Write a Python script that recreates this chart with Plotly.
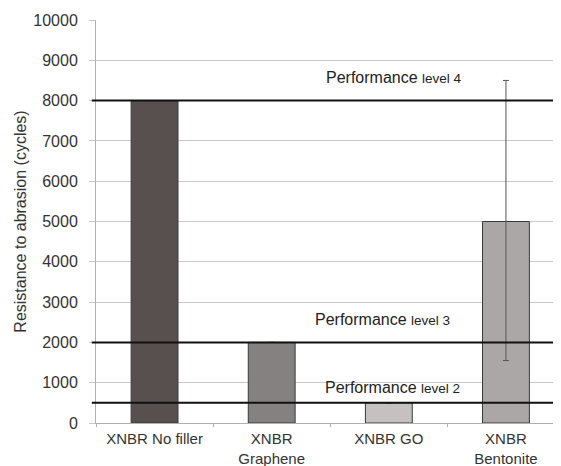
import plotly.graph_objects as go

categories = ["XNBR No filler", "XNBR<br>Graphene", "XNBR GO", "XNBR<br>Bentonite"]
cycles = [8000, 2000, 500, 5000]
err_plus = [0, 0, 0, 3500]
err_minus = [0, 0, 0, 3450]
err_visible = [False, False, False, True]
bar_colors = ["#57504f", "#858180", "#c4c1c0", "#aba7a6"]

levels = [8000, 2000, 500]
level_names = ["4", "3", "2"]
label_x = [0.490, 0.467, 0.488]
label_y = [8570, 2560, 880]

fig = go.Figure()
fig.add_trace(go.Bar(
    x=categories, y=cycles, width=0.40,
    marker=dict(color=bar_colors, line=dict(color="#3a3a3a", width=1)),
    error_y=dict(type="data", symmetric=False,
                 array=[p if v else None for p, v in zip(err_plus, err_visible)],
                 arrayminus=[m if v else None for m, v in zip(err_minus, err_visible)],
                 color="#555555", thickness=1, width=3),
    showlegend=False,
))

for lv, name, lx, ly in zip(levels, level_names, label_x, label_y):
    fig.add_shape(type="line", xref="paper", yref="y", x0=-0.009, x1=1, y0=lv, y1=lv,
                  line=dict(color="#111111", width=2))
    fig.add_annotation(xref="paper", yref="y", x=lx, y=ly, xanchor="left", yanchor="middle",
                       showarrow=False,
                       text="Performance <span style='font-size:13.5px'>level " + name + "</span>",
                       font=dict(size=16, color="#222222", family="Liberation Sans, Arial"))

# page body has an 8px default margin; figure sized/offset to compensate
fig.update_layout(
    width=553, height=458,
    margin=dict(l=88, r=0, t=12, b=43, autoexpand=False),
    plot_bgcolor="white", paper_bgcolor="white",
    font=dict(family="Liberation Sans, Arial", size=16, color="#333333"),
    bargap=0.6,
)
fig.update_xaxes(
    range=[-0.5, 3.47], showgrid=False, showline=True, linecolor="#b0b0b0", linewidth=1,
    ticks="outside", tickson="boundaries", ticklen=3, tickcolor="#b0b0b0",
    ticklabelstandoff=2,
    tickfont=dict(size=15, color="#333333"), automargin=False,
)
fig.update_yaxes(
    range=[0, 10000], dtick=1000, tickformat="d", showgrid=True, gridcolor="#c8c8c8", gridwidth=1,
    showline=True, linecolor="#b0b0b0", linewidth=1, zeroline=False,
    ticks="outside", ticklen=6, tickcolor="#c8c8c8", ticklabelstandoff=8,
    tickfont=dict(size=16, color="#333333"), automargin=False,
    title=dict(text="Resistance to abrasion (cycles)", font=dict(size=16, color="#333333"), standoff=2),
)

fig.write_html("out.html")
